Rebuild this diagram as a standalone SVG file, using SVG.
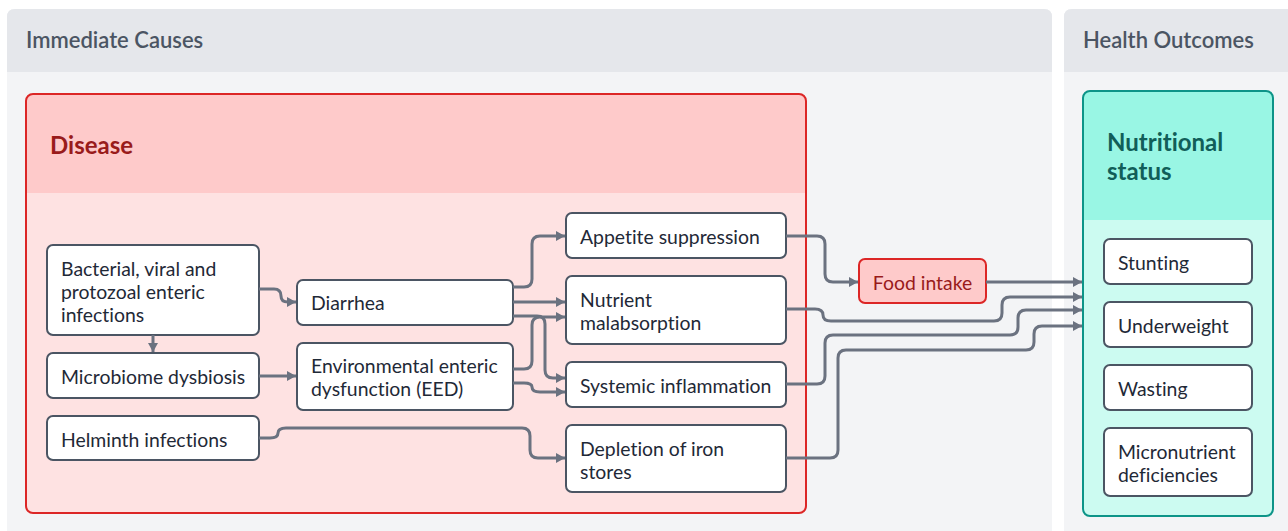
<svg xmlns="http://www.w3.org/2000/svg" width="1288" height="531" viewBox="0 0 1288 531">
<style>
text{font-family:Lato,"Noto Sans","Liberation Sans",sans-serif;font-variant-ligatures:none}
.lane{fill:#f3f4f6}
.lanehead{fill:#e5e7eb}
.lanet{font-size:22px;font-weight:600;fill:#4b5563}
.node rect{fill:#ffffff;stroke:#4b5563;stroke-width:2}
.node text{font-size:19.4px;fill:#1f2937}
.edge{fill:none;stroke:#6b7280;stroke-width:3;marker-end:url(#arr)}
</style>
<defs>
<marker id="arr" markerUnits="userSpaceOnUse" markerWidth="9" markerHeight="10" refX="9" refY="5" orient="auto">
<path d="M0,0 L9,5 L0,10 z" fill="#6b7280"/>
</marker>
</defs>
<rect width="1288" height="531" fill="#ffffff"/>
<g id="lane-immediate">
<path class="lane" d="M7,17 Q7,9 15,9 H1044 Q1052,9 1052,17 V531 H7 z"/>
<path class="lanehead" d="M7,17 Q7,9 15,9 H1044 Q1052,9 1052,17 V72 H7 z"/>
<text class="lanet" x="26" y="48">Immediate Causes</text>
</g>
<g id="lane-health">
<path class="lane" d="M1064,17 Q1064,9 1072,9 H1288 V531 H1064 z"/>
<path class="lanehead" d="M1064,17 Q1064,9 1072,9 H1288 V72 H1064 z"/>
<text class="lanet" x="1083" y="48">Health Outcomes</text>
</g>
<g id="group-disease">
<rect x="26" y="94" width="780" height="419" rx="7" fill="#fee2e2"/>
<path d="M26,193 V101 Q26,94 33,94 H799 Q806,94 806,101 V193 z" fill="#fecaca"/>
<rect x="26" y="94" width="780" height="419" rx="7" fill="none" stroke="#dc2626" stroke-width="2"/>
<text x="50" y="154" font-size="24" font-weight="700" fill="#991b1b">Disease</text>
</g>
<g id="group-nutritional">
<rect x="1083" y="91" width="190" height="425" rx="7" fill="#ccfbf1"/>
<path d="M1083,220 V98 Q1083,91 1090,91 H1266 Q1273,91 1273,98 V220 z" fill="#99f6e4"/>
<rect x="1083" y="91" width="190" height="425" rx="7" fill="none" stroke="#0d9488" stroke-width="2"/>
<text x="1107" y="151" font-size="24" font-weight="700" fill="#115e59">Nutritional</text>
<text x="1107" y="180" font-size="24" font-weight="700" fill="#115e59">status</text>
</g>
<g id="node-bacterial" class="node"><rect x="47" y="245" width="212" height="90" rx="6"/>
<text x="61" y="276">Bacterial, viral and</text><text x="61" y="299">protozoal enteric</text><text x="61" y="322">infections</text></g>
<g id="node-microbiome" class="node"><rect x="47" y="353" width="212" height="45" rx="6"/>
<text x="61" y="384">Microbiome dysbiosis</text></g>
<g id="node-helminth" class="node"><rect x="47" y="416" width="212" height="44" rx="6"/>
<text x="61" y="447">Helminth infections</text></g>
<g id="node-diarrhea" class="node"><rect x="297" y="280" width="216" height="45" rx="6"/>
<text x="311" y="310">Diarrhea</text></g>
<g id="node-eed" class="node"><rect x="297" y="343" width="216" height="67" rx="6"/>
<text x="311" y="373">Environmental enteric</text><text x="311" y="396">dysfunction (EED)</text></g>
<g id="node-appetite" class="node"><rect x="566" y="213" width="220" height="45" rx="6"/>
<text x="580" y="244">Appetite suppression</text></g>
<g id="node-nutrient" class="node"><rect x="566" y="276" width="220" height="68" rx="6"/>
<text x="580" y="307">Nutrient</text><text x="580" y="330">malabsorption</text></g>
<g id="node-systemic" class="node"><rect x="566" y="362" width="220" height="45" rx="6"/>
<text x="580" y="393">Systemic inflammation</text></g>
<g id="node-iron" class="node"><rect x="566" y="425" width="220" height="67" rx="6"/>
<text x="580" y="456">Depletion of iron</text><text x="580" y="479">stores</text></g>
<g id="node-food"><rect x="859" y="259" width="127" height="44" rx="6" fill="#fecaca" stroke="#dc2626" stroke-width="2"/>
<text x="922.5" y="290" text-anchor="middle" font-size="19.4" fill="#991b1b">Food intake</text></g>
<g id="node-stunting" class="node"><rect x="1104" y="239" width="148" height="45" rx="6"/>
<text x="1118" y="270">Stunting</text></g>
<g id="node-underweight" class="node"><rect x="1104" y="302" width="148" height="45" rx="6"/>
<text x="1118" y="333">Underweight</text></g>
<g id="node-wasting" class="node"><rect x="1104" y="365" width="148" height="45" rx="6"/>
<text x="1118" y="396">Wasting</text></g>
<g id="node-micronutrient" class="node"><rect x="1104" y="428" width="148" height="68" rx="6"/>
<text x="1118" y="459">Micronutrient</text><text x="1118" y="482">deficiencies</text></g>
<g id="connectors">
<path class="edge" d="M259,289 H274 Q281,289 281,296 Q281,302 288,302 H296"/>
<path class="edge" d="M153,335 V352"/>
<path class="edge" d="M259,376 H296"/>
<path class="edge" d="M259,438 H270 Q278,438 278,433 Q278,428 286,428 H522 Q530,428 530,436 V450 Q530,458 538,458 H565"/>
<path class="edge" d="M513,287 H524 Q532,287 532,279 V244 Q532,236 540,236 H565"/>
<path class="edge" d="M513,302 H565"/>
<path class="edge" d="M513,316 H537 Q545,316 545,324 V370 Q545,378 553,378 H565"/>
<path class="edge" d="M513,369 H524 Q532,369 532,361 V325 Q532,317 540,317 H565"/>
<path class="edge" d="M513,383 H524 Q532,383 532,387 Q532,392 540,392 H565"/>
<path class="edge" d="M786,236 H817 Q825,236 825,244 V274 Q825,282 833,282 H858"/>
<path class="edge" d="M986,282 H1082"/>
<path class="edge" d="M786,309 H815 Q823,309 823,315 Q823,321 831,321 H994 Q1002,321 1002,313 V305 Q1002,297 1010,297 H1082"/>
<path class="edge" d="M786,384 H817 Q825,384 825,376 V343 Q825,335 833,335 H1010 Q1018,335 1018,327 V318 Q1018,310 1026,310 H1082"/>
<path class="edge" d="M786,458 H830 Q838,458 838,450 V358 Q838,350 846,350 H1026 Q1034,350 1034,342 V334 Q1034,326 1042,326 H1082"/>
</g>
</svg>
